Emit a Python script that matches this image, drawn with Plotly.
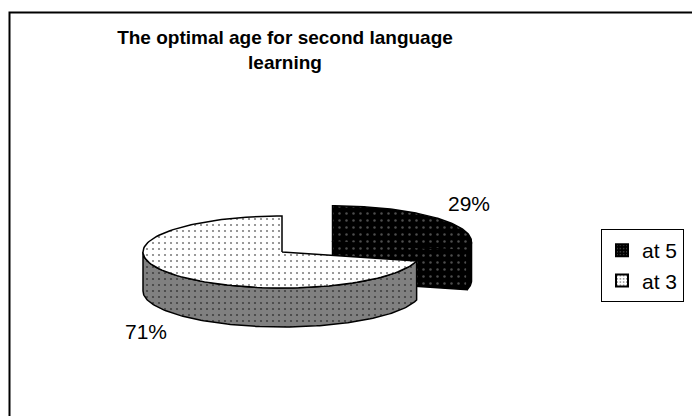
import numpy as np
import plotly.graph_objects as go

# ---- data ----
categories = ["at 5", "at 3"]
shares = [29, 71]
label_texts = ["29%", "71%"]
explode = [0.46, 0.0]

# ---- styles / geometry (pixel units) ----
top_colors = ["#000000", "#FFFFFF"]
side_colors = ["#000000", "#808080"]
dot_colors = ["#9a9a9a", "#000000"]
side_dot_colors = ["#9a9a9a", "#000000"]
CX, CY, RX, RY, DEPTH = 282.0, 252.0, 139.0, 36.0, 39.0
label_pos = [(469, 203), (146, 331)]
FONT = "Arial, Liberation Sans, sans-serif"

fig = go.Figure()


def arc(cx, cy, a0, a1, dz=0.0, n=120):
    t = np.radians(np.linspace(a0, a1, n))
    return list(cx + RX * np.sin(t)), list(cy - RY * np.cos(t) + dz)


def poly(xs, ys, fill, dot, size):
    fig.add_trace(go.Scatter(
        x=xs + [xs[0]], y=ys + [ys[0]], mode="lines", fill="toself",
        fillcolor=fill,
        fillpattern=dict(shape=".", fgcolor=dot, bgcolor=fill, size=size, solidity=0.1),
        line=dict(color="black", width=1.5), showlegend=False, hoverinfo="skip"))


# slice angles (clockwise from 12 o'clock)
bounds = []
a = 0.0
for s in shares:
    bounds.append((a, a + 360.0 * s / sum(shares)))
    a += 360.0 * s / sum(shares)

# draw back-to-front
order = sorted(range(len(shares)),
               key=lambda i: -np.cos(np.radians(sum(bounds[i]) / 2)))
for i in order:
    a0, a1 = bounds[i]
    mid = np.radians((a0 + a1) / 2)
    cx = CX + explode[i] * RX * np.sin(mid)
    cy = CY - explode[i] * RY * np.cos(mid)
    size = 7 if i == 0 else 6
    # visible cut face at a1
    if np.sin(np.radians(a1)) > 1e-6:
        bx, by = arc(cx, cy, a1, a1, n=1)
        poly([bx[0], cx, cx, bx[0]], [by[0], cy, cy + DEPTH, by[0] + DEPTH],
             side_colors[i], side_dot_colors[i], size)
    # visible cut face at a0
    if np.sin(np.radians(a0)) < -1e-6:
        bx, by = arc(cx, cy, a0, a0, n=1)
        poly([bx[0], cx, cx, bx[0]], [by[0], cy, cy + DEPTH, by[0] + DEPTH],
             side_colors[i], side_dot_colors[i], size)
    # front side wall
    f0, f1 = max(a0, 90.0), min(a1, 270.0)
    if f1 > f0:
        tx, ty = arc(cx, cy, f0, f1)
        bx, by = arc(cx, cy, f1, f0, dz=DEPTH)
        poly(tx + bx, ty + by, side_colors[i], side_dot_colors[i], size)
    # top face
    tx, ty = arc(cx, cy, a0, a1)
    poly([cx] + tx, [cy] + ty, top_colors[i], dot_colors[i], size)

# legend entries
for i, c in enumerate(categories):
    fig.add_trace(go.Bar(
        x=[None], y=[None], name=c,
        marker=dict(color=top_colors[i], line=dict(color="black", width=1),
                    pattern=dict(shape=".", fgcolor=dot_colors[i],
                                 bgcolor=top_colors[i], size=4, solidity=0.2))))

for (lx, ly), t in zip(label_pos, label_texts):
    fig.add_annotation(x=lx, y=ly, text=t, showarrow=False,
                       font=dict(family=FONT, size=21, color="black"))

# chart frame
fig.add_shape(type="rect", xref="paper", yref="paper",
              x0=9.5 / 692, x1=1.05, y0=-0.05, y1=1 - 12.5 / 416,
              line=dict(color="black", width=2))

fig.update_layout(
    width=692, height=416,
    margin=dict(l=0, r=0, t=0, b=0),
    paper_bgcolor="white", plot_bgcolor="white",
    xaxis=dict(range=[0, 692], visible=False, fixedrange=True),
    yaxis=dict(range=[416, 0], visible=False, fixedrange=True),
    title=dict(text="<b>The optimal age for second language<br>learning</b>",
               x=285 / 692, xanchor="center", y=1 - 44 / 416, yanchor="top",
               font=dict(family=FONT, size=19, color="black")),
    showlegend=True,
    legend=dict(x=601 / 692, xanchor="left", y=1 - 229 / 416, yanchor="top",
                bordercolor="black", borderwidth=1, bgcolor="white",
                font=dict(family=FONT, size=21, color="black"),
                traceorder="normal", itemsizing="constant"),
)

fig.write_html("out.html")
